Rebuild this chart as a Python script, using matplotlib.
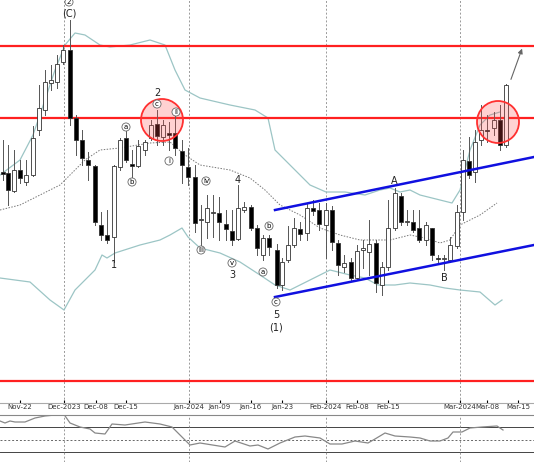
import matplotlib
matplotlib.use("Agg")
import matplotlib.pyplot as plt
from matplotlib.patches import Circle, Rectangle

# candle positions (px-based axis units) and OHLC as "price" = 500 - pixel y
cx = [3,8,14,20,26,33,39,45,51,57,63,70,76,82,88,95,101,107,114,120,126,132,138,145,151,157,163,169,175,
      182,188,195,201,207,213,219,226,232,238,244,251,257,263,269,277,282,288,294,300,307,313,319,326,332,338,344,351,
      357,363,369,376,382,388,395,401,407,413,419,426,432,438,444,450,457,463,469,475,481,487,494,500,506]
cy_o = [172,173,191,170,182,175,130,110,83,82,62,50,118,140,160,166,225,235,237,167,138,164,166,150,138,124,137,133,133,
        151,167,177,220,222,213,213,224,231,239,210,207,228,255,238,250,285,260,245,229,233,208,210,225,210,243,267,262,
        278,250,252,243,285,267,228,196,222,222,228,240,228,258,259,260,246,212,161,172,140,130,128,120,145]
cy_c = [174,190,170,178,175,138,108,82,80,64,50,118,140,158,165,222,235,240,166,140,160,166,146,142,125,136,125,135,148,
        165,177,223,219,208,213,222,229,240,208,207,228,248,238,247,285,262,245,228,234,208,211,224,210,242,265,263,278,
        251,248,244,283,267,228,193,222,222,230,240,225,255,259,259,245,212,160,175,142,130,131,120,145,85]
cy_h = [140,145,150,160,160,126,85,70,65,55,45,20,115,130,152,165,212,210,165,138,130,150,140,140,120,110,120,122,115,
        140,148,165,205,195,195,197,210,210,185,202,205,225,235,235,244,258,226,218,222,204,200,203,203,206,240,255,258,
        245,240,220,240,262,200,188,193,210,210,210,222,228,255,255,237,205,150,137,130,105,115,112,105,84]
cy_l = [180,205,192,183,185,176,135,115,90,88,64,125,155,165,180,225,240,243,262,170,162,180,167,155,140,145,145,150,155,
        183,185,232,245,238,237,240,240,245,240,212,230,255,260,255,288,290,262,247,240,240,215,230,258,250,275,272,280,
        280,268,275,292,295,270,230,225,225,232,242,245,260,262,270,262,248,220,178,182,145,142,135,150,147]

ub_x = [0,20,33,45,55,65,75,85,100,110,130,150,165,175,185,200,230,255,268,275,290,310,326,345,365,380,390,400,410,420,440,452,460,470,480,490,500]
ub_y = [175,160,135,100,70,45,33,35,45,47,45,40,45,70,90,98,105,110,118,150,165,185,192,192,195,190,188,192,190,195,200,203,190,150,125,115,112]
lb_x = [0,30,50,64,75,95,102,107,115,140,160,170,182,188,200,220,240,260,275,290,310,330,350,365,378,395,410,430,445,460,480,495,502]
lb_y = [278,282,300,310,290,270,255,258,253,245,240,235,228,237,248,253,262,275,285,290,280,270,275,278,285,285,283,285,288,290,292,305,300]
mb_x = [0,20,40,60,70,85,100,120,150,170,185,200,230,250,265,280,300,320,340,360,390,410,425,440,450,460,480,497]
mb_y = [210,205,195,185,175,160,150,148,143,142,155,165,170,178,190,205,215,228,235,240,240,235,238,243,240,225,215,203]

osc_x = [0,5,10,15,25,35,45,55,63,70,80,90,95,105,112,125,145,160,172,185,190,200,225,235,250,258,268,280,295,305,320,330,342,355,368,375,385,395,410,420,430,440,448,453,462,470,482,497,503]
osc_y = [421,423,421,422,422,418,416,415,413,423,427,429,433,434,424,425,422,424,427,440,445,443,447,441,446,445,449,443,437,436,438,444,444,441,443,439,433,436,437,438,441,441,438,432,432,428,427,426,430]

tick_pos = [20,64,96,126,189,220,251,282,326,357,388,460,487,518]
tick_lab = ["Nov-22","Dec-2023","Dec-08","Dec-15","Jan-2024","Jan-09","Jan-16","Jan-23",
            "Feb-2024","Feb-08","Feb-15","Mar-2024","Mar-08","Mar-15"]
red_levels = [500-46, 500-118, 500-381]

P = lambda y: 500 - y

fig = plt.figure(figsize=(5.34, 4.62), dpi=100)
ax = fig.add_axes([0, 1-403/462, 1, 403/462])
ax.set_xlim(0, 534)
ax.set_ylim(P(403), P(0))

for x in [64,189,326,460]:
    ax.axvline(x, color="#999999", ls=(0,(2,2)), lw=0.7, zorder=0)

ax.plot(ub_x, [P(v) for v in ub_y], color="#9cc5c5", lw=0.9)
ax.plot(lb_x, [P(v) for v in lb_y], color="#9cc5c5", lw=0.9)
ax.plot(mb_x, [P(v) for v in mb_y], color="#777777", lw=0.7, ls=(0,(1.5,1.5)))

for lv in red_levels:
    ax.axhline(lv, color="#ff2020", lw=1.6, zorder=3)

for x, o, h, l, c in zip(cx, cy_o, cy_h, cy_l, cy_c):
    o, h, l, c = P(o), P(h), P(l), P(c)
    ax.plot([x, x], [l, h], color="#555555", lw=0.7, zorder=4)
    bot, top = min(o, c), max(o, c)
    ax.add_patch(Rectangle((x-2, bot), 4, max(top-bot, 1), facecolor="black" if c < o else "white",
                           edgecolor="#333333", lw=0.6, zorder=5))

ax.plot([275, 534], [P(210), P(157)], color="#1010e0", lw=1.8, zorder=6)
ax.plot([275, 534], [P(297), P(245)], color="#1010e0", lw=1.8, zorder=6)

for (x, y) in [(162, 120), (498, 122)]:
    ax.add_patch(Circle((x, P(y)), 21, facecolor=(1, 0.3, 0.3, 0.25), edgecolor="#ff3030", lw=1.3, zorder=7))

ax.annotate("", xy=(523, P(46)), xytext=(510, P(82)),
            arrowprops=dict(arrowstyle="-|>", color="#666666", lw=0.8, mutation_scale=7))

def circ(x, y, t):
    ax.text(x, P(y), t, fontsize=5, ha="center", va="center", zorder=8,
            bbox=dict(boxstyle="circle,pad=0.15", fc="white", ec="#666666", lw=0.6))

def lab(x, y, t, fs=7):
    ax.text(x, P(y), t, fontsize=fs, ha="center", va="center", color="#222222", zorder=8)

circ(69, 2, "2"); lab(69, 13, "(C)")
lab(157, 93, "2"); circ(157, 104, "c"); circ(176, 112, "ii"); circ(126, 127, "a")
circ(132, 182, "b"); circ(169, 161, "i"); lab(114, 265, "1")
circ(206, 181, "iv"); lab(238, 180, "4"); circ(201, 250, "iii"); circ(232, 263, "v"); lab(232, 275, "3")
circ(269, 226, "b"); circ(263, 272, "a"); circ(276, 302, "c"); lab(276, 315, "5"); lab(276, 328, "(1)")
lab(394, 181, "A"); lab(444, 278, "B")

ax.set_xticks(tick_pos)
ax.set_xticklabels(tick_lab, fontsize=5, color="#333333")
ax.tick_params(axis="x", length=2, pad=1, direction="in")
ax.set_yticks([])
for s in ["left", "right", "top"]:
    ax.spines[s].set_visible(False)
ax.spines["bottom"].set_color("#aaaaaa")

ax2 = fig.add_axes([0, 0, 1, 47/462])
ax2.set_xlim(0, 534)
ax2.set_ylim(462, 415)
ax2.axhline(427, color="#444444", lw=0.7)
ax2.axhline(452, color="#444444", lw=0.7)
ax2.axhline(440, color="#666666", lw=0.7, ls=(0, (2, 2)))
for x in [64,189,326,460]:
    ax2.axvline(x, color="#999999", ls=(0,(2,2)), lw=0.7)
ax2.plot(osc_x, osc_y, color="#888888", lw=0.9)
ax2.set_xticks([]); ax2.set_yticks([])
for s in ["left", "right", "bottom"]:
    ax2.spines[s].set_visible(False)
ax2.spines["top"].set_color("#888888")

fig.savefig("out.png", dpi=100)
